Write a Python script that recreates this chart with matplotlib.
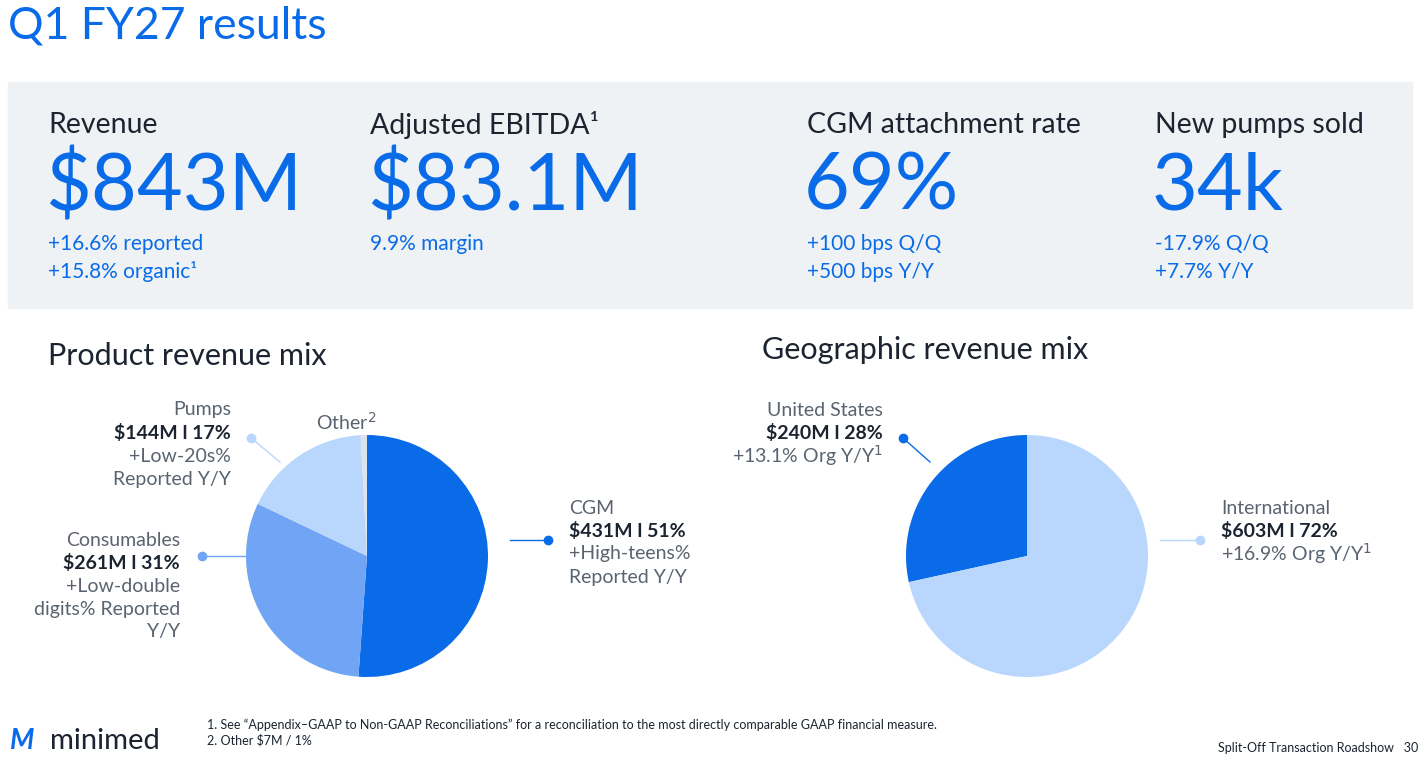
import matplotlib.pyplot as plt
from matplotlib.patches import Rectangle

plt.rcParams['font.family'] = ['Lato', 'DejaVu Sans']

BLUE = '#0a6be8'
DARK = '#1b2430'
GREY = '#5a6470'

# data
kpi_titles = ['Revenue', 'Adjusted EBITDA¹', 'CGM attachment rate', 'New pumps sold']
kpi_values = ['$843M', '$83.1M', '69%', '34k']
kpi_notes = [['+16.6% reported', '+15.8% organic¹'], ['9.9% margin'],
             ['+100 bps Q/Q', '+500 bps Y/Y'], ['-17.9% Q/Q', '+7.7% Y/Y']]
kpi_x = [48, 370, 807, 1155]

product_labels = ['CGM', 'Consumables', 'Pumps', 'Other']
product_rev = [431, 261, 144, 7]
product_colors = ['#0a6be8', '#70a5f5', '#b9d6fc', '#dde3ea']

geo_labels = ['United States', 'International']
geo_rev = [240, 603]
geo_colors = ['#0a6be8', '#b9d6fc']

W, H = 1428, 759
fig = plt.figure(figsize=(W / 100, H / 100), dpi=100)


def pie_axes(cx, cy, r):
    return fig.add_axes([(cx - r) / W, 1 - (cy + r) / H, 2 * r / W, 2 * r / H])


ax1 = pie_axes(367, 556, 121)
ax1.pie(product_rev, colors=product_colors, startangle=90, counterclock=False,
        wedgeprops=dict(linewidth=0))
ax1.set_xlim(-1, 1); ax1.set_ylim(-1, 1); ax1.axis('off')

ax2 = pie_axes(1027, 556, 121)
ax2.pie(geo_rev, colors=geo_colors, startangle=90, counterclock=True,
        wedgeprops=dict(linewidth=0))
ax2.set_xlim(-1, 1); ax2.set_ylim(-1, 1); ax2.axis('off')

# overlay in pixel coordinates
ov = fig.add_axes([0, 0, 1, 1], zorder=5)
ov.set_xlim(0, W); ov.set_ylim(H, 0); ov.axis('off'); ov.patch.set_alpha(0)

ov.text(8, 26, 'Q1 FY27 results', color=BLUE, fontsize=32, va='center')
ov.add_patch(Rectangle((8, 82), 1404, 226, color='#eef2f4', zorder=0))

for x, t, v, notes in zip(kpi_x, kpi_titles, kpi_values, kpi_notes):
    ov.text(x, 125, t, color=DARK, fontsize=20.5, va='center')
    ov.text(x - 3, 187, v, color=BLUE, fontsize=57, va='center')
    for i, n in enumerate(notes):
        ov.text(x, 244 + 28 * i, n, color=BLUE, fontsize=15, va='center')

ov.text(48, 356, 'Product revenue mix', color=DARK, fontsize=22, va='center')
ov.text(762, 350, 'Geographic revenue mix', color=DARK, fontsize=22, va='center')

tot1 = sum(product_rev)
pct1 = [round(v / tot1 * 100) for v in product_rev]
tot2 = sum(geo_rev)
pct2 = [round(v / tot2 * 100) for v in geo_rev]


def label(x, y, name, val, pct, extra, ha):
    lines = [(name, 'normal', GREY), (f'${val}M l {pct}%', 'bold', DARK)]
    lines += [(e, 'normal', GREY) for e in extra]
    for i, (s, w, c) in enumerate(lines):
        ov.text(x, y + 23 * i, s, ha=ha, va='center', fontsize=14, fontweight=w, color=c)


def leader(x0, y0, x1, y1, c):
    ov.plot([x0, x1], [y0, y1], color=c, lw=1)
    ov.plot(x1, y1, 'o', color=c, ms=6)


label(569, 508, product_labels[0], product_rev[0], pct1[0], ['+High-teens%', 'Reported Y/Y'], 'left')
leader(510, 540, 548, 540, product_colors[0])
label(180, 540, product_labels[1], product_rev[1], pct1[1],
      ['+Low-double', 'digits% Reported', 'Y/Y'], 'right')
leader(245, 556, 202, 556, product_colors[1])
label(231, 410, product_labels[2], product_rev[2], pct1[2], ['+Low-20s%', 'Reported Y/Y'], 'right')
leader(280, 462, 251, 438, product_colors[2])
ov.text(316, 422, 'Other$^2$', fontsize=14, color=GREY, va='center')

label(883, 410, geo_labels[0], geo_rev[0], pct2[0], ['+13.1% Org Y/Y$^1$'], 'right')
leader(930, 462, 903, 438, geo_colors[0])
label(1221, 508, geo_labels[1], geo_rev[1], pct2[1], ['+16.9% Org Y/Y$^1$'], 'left')
leader(1160, 540, 1200, 540, geo_colors[1])

ov.text(207, 725, '1. See “Appendix–GAAP to Non-GAAP Reconciliations” for a reconciliation to the most '
        'directly comparable GAAP financial measure.', fontsize=9, color=DARK, va='center')
ov.text(207, 740, '2. Other $7M / 1%', fontsize=9, color=DARK, va='center')
ov.text(1418, 748, 'Split-Off Transaction Roadshow   30', fontsize=9, color=DARK, va='center', ha='right')

ov.text(10, 741, 'M', color=BLUE, fontsize=20, fontweight='bold', fontstyle='italic', va='center')
ov.text(50, 741, 'minimed', color=DARK, fontsize=21, va='center')

fig.savefig('out.png', dpi=100)
